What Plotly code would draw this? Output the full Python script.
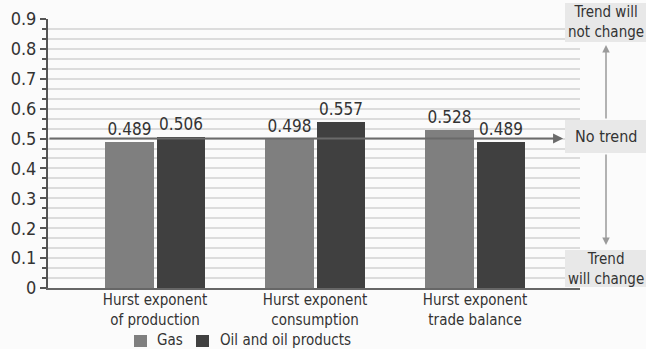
import plotly.graph_objects as go

categories = ["Hurst exponent<br>of production", "Hurst exponent<br>consumption", "Hurst exponent<br>trade balance"]
gas = [0.489, 0.498, 0.528]
oil = [0.506, 0.557, 0.489]
series_names = ["Gas", "Oil and oil products"]
colors = ["#7f7f7f", "#404040"]
y_ticks = [0, 0.1, 0.2, 0.3, 0.4, 0.5, 0.6, 0.7, 0.8, 0.9]
no_trend_level = 0.5

FONT = "Liberation Sans Narrow, DejaVu Sans Condensed, sans-serif"
pos = list(range(len(categories)))

fig = go.Figure()
for name, vals, col, off in [(series_names[0], gas, colors[0], -0.31), (series_names[1], oil, colors[1], 0.01)]:
    fig.add_trace(go.Bar(
        x=pos, y=vals, name=name, width=0.305, offset=off,
        marker=dict(color=col, line=dict(width=0)),
        text=[f"{v:.3f}" for v in vals], textposition="outside",
        textfont=dict(size=17, color="#333333", family=FONT),
        cliponaxis=False, showlegend=False,
    ))

L, T, R, B = 48, 19, 66, 61
W, H = 646, 349
pw = W - L - R
ph = H - T - B

def px_x(px):
    return (px - L) / pw

def px_y(py):
    return (H - B - py) / ph

fig.update_layout(
    width=W, height=H,
    margin=dict(l=L, r=R, t=T, b=B, pad=0),
    paper_bgcolor="#fbfbfb", plot_bgcolor="#fbfbfb",
    font=dict(family=FONT, size=16, color="#333333"),
    bargap=0, barmode="overlay",
    showlegend=False,
    xaxis=dict(range=[-0.669, 2.656], tickmode="array", tickvals=pos, ticktext=categories,
               showgrid=False, zeroline=False, showline=True, linecolor="#666666", linewidth=2,
               ticks="", ticklabelstandoff=-3, tickfont=dict(size=15, color="#333333"), automargin=False),
    yaxis=dict(range=[0, 0.9], tickmode="array", tickvals=y_ticks,
               ticktext=["0"] + [f"{t:.1f}" for t in y_ticks[1:]],
               showgrid=True, gridcolor="#dcdcdc", gridwidth=2, zeroline=False,
               showline=True, linecolor="#555555", linewidth=2,
               ticks="outside", ticklen=6, tickwidth=2, tickcolor="#555555",
               tickfont=dict(size=18, color="#333333"), automargin=False,
               minor=dict(dtick=0.1 / 3, tick0=0, showgrid=True, gridcolor="#dcdcdc", gridwidth=2,
                          ticks="outside", ticklen=4, tickwidth=2, tickcolor="#555555")),
)

# "No trend" line with arrow, drawn on top of bars
fig.add_annotation(x=(563 - 155) / 160, y=no_trend_level, xref="x", yref="y",
                   ax=-0.669, ay=no_trend_level, axref="x", ayref="y",
                   text="", showarrow=True, arrowhead=2, arrowsize=1, arrowwidth=2,
                   arrowcolor="#6a6a6a")

# grey label boxes on right
boxes = [
    ("Trend will<br>not change", 3, 42, 15),
    ("No trend", 120, 153, 16),
    ("Trend<br>will change", 250, 287, 15),
]
for txt, y0, y1, fs in boxes:
    fig.add_shape(type="rect", xref="paper", yref="paper",
                  x0=px_x(565), x1=px_x(646), y0=px_y(y1), y1=px_y(y0),
                  fillcolor="#e8e8e8", line=dict(width=0), layer="above")
    fig.add_annotation(x=px_x(606), y=px_y((y0 + y1) / 2), xref="paper", yref="paper",
                       text=txt, showarrow=False, font=dict(size=fs, color="#333333"),
                       xanchor="center", yanchor="middle")

# vertical arrows
fig.add_annotation(x=px_x(606), y=px_y(45), xref="paper", yref="paper",
                   ax=0, ay=75, text="", showarrow=True, arrowhead=2, arrowsize=1,
                   arrowwidth=1.5, arrowcolor="#9a9a9a")
fig.add_annotation(x=px_x(606), y=px_y(245), xref="paper", yref="paper",
                   ax=0, ay=-92, text="", showarrow=True, arrowhead=2, arrowsize=1,
                   arrowwidth=1.5, arrowcolor="#9a9a9a")

# manual legend
legend_items = [(series_names[0], colors[0], 134, 155), (series_names[1], colors[1], 196, 218)]
for name, col, sx, tx in legend_items:
    fig.add_shape(type="rect", xref="paper", yref="paper",
                  x0=px_x(sx), x1=px_x(sx + 13), y0=px_y(347), y1=px_y(335),
                  fillcolor=col, line=dict(width=0))
    fig.add_annotation(x=px_x(tx), y=px_y(340), xref="paper", yref="paper",
                       text=name, showarrow=False, xanchor="left", yanchor="middle",
                       font=dict(size=15, color="#333333"))

fig.write_html("out.html")
